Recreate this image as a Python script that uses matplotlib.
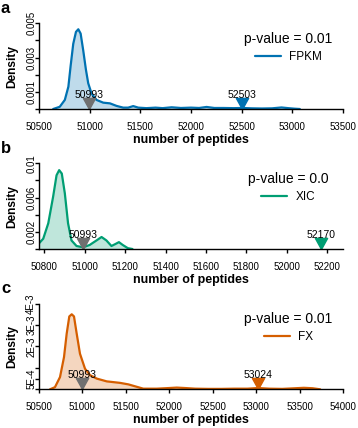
import matplotlib
matplotlib.use("Agg")
import matplotlib.pyplot as plt
from matplotlib.markers import MarkerStyle
from matplotlib.path import Path

plt.rcParams["font.family"] = ["Liberation Sans", "DejaVu Sans"]

# density curves
FPKM_X = [50640, 50705, 50755, 50790, 50812, 50838, 50865, 50888, 50911, 50937,
          50963, 50986, 51019, 51068, 51134, 51200, 51266, 51331, 51380, 51430,
          51480, 51560, 51650, 51720, 51809, 51900, 52000, 52080, 52154, 52230,
          52320, 52420, 52510, 52600, 52700, 52800, 52893, 52960, 53020, 53074]
FPKM_Y = [0, 0.00013, 0.00053, 0.0013, 0.0025, 0.0038, 0.0045, 0.00465, 0.0044, 0.0034,
          0.0023, 0.0015, 0.0009, 0.00053, 0.00037, 0.00033, 0.00018, 0.00008, 0.00008, 0.00017,
          0.00008, 0.00005, 0.00008, 0.00005, 0.0001, 0.00006, 0.00008, 0.00006, 0.00012, 0.00006,
          0.00006, 0.00005, 0.00006, 0.00004, 0.00003, 0.00004, 0.00009, 0.00005, 0.00002, 0]

XIC_X = [50773, 50794, 50819, 50843, 50860, 50873, 50886, 50901, 50917, 50934,
         50959, 50992, 51024, 51058, 51083, 51107, 51132, 51153, 51169, 51188,
         51213, 51236]
XIC_Y = [0.00066, 0.0012, 0.003, 0.0061, 0.0086, 0.0092, 0.0088, 0.0065, 0.003, 0.001,
         0.00035, 0.0002, 0.00047, 0.001, 0.0014, 0.001, 0.00035, 0.0006, 0.0008, 0.00047,
         0.0001, 0]

FX_X = [50627, 50684, 50742, 50788, 50819, 50849, 50877, 50903, 50934, 50972,
        51030, 51088, 51165, 51280, 51433, 51529, 51606, 51701, 51856, 52000,
        52086, 52180, 52300, 52450, 52600, 52750, 52900, 53024, 53150, 53300,
        53450, 53550, 53650, 53737]
FX_Y = [0, 0.0001, 0.00057, 0.0015, 0.0026, 0.0034, 0.0035, 0.0034, 0.0026, 0.00166,
        0.00096, 0.00066, 0.0005, 0.00037, 0.0003, 0.00023, 0.00014, 0.00003, 0.00003, 0.00006,
        0.00008, 0.00006, 0.00003, 0.00002, 0.00002, 0.00003, 0.00003, 0.00006, 0.00003, 0.00002,
        0.00005, 0.00007, 0.00005, 0]

OBSERVED = 50993
NAMES = ["FPKM", "XIC", "FX"]
PVALUES = ["0.01", "0.0", "0.01"]
TARGETS = [52503, 52170, 53024]
COLORS = ["#0072B2", "#009E73", "#D55E00"]
LETTERS = ["a", "b", "c"]

XLIMS = [(50500, 53500), (50773, 52279), (50500, 54000)]
XTICKS = [list(range(50500, 53501, 500)), list(range(50800, 52201, 200)),
          list(range(50500, 54001, 500))]
YLIMS = [(0, 0.005), (0, 0.01), (0, 0.004)]
YTICKS = [[0, 0.001, 0.002, 0.003, 0.004, 0.005],
          [0, 0.002, 0.004, 0.006, 0.008, 0.01],
          [0, 0.0005, 0.001, 0.002, 0.003, 0.004]]
YLABELS = [["", "0.001", "", "0.003", "", "0.005"],
           ["", "0.002", "", "0.006", "", "0.01"],
           ["", "5E-4", "", "2E-3", "3E-3", "4E-3"]]

CURVES = [(FPKM_X, FPKM_Y), (XIC_X, XIC_Y), (FX_X, FX_Y)]

# downward triangle with its tip on the data point
tri = MarkerStyle(Path([(0, 0), (-0.55, 1), (0.55, 1), (0, 0)]))

fig = plt.figure(figsize=(3.58, 4.28), dpi=100)
bottoms = [0.7453, 0.4182, 0.0904]

for i in range(3):
    ax = fig.add_axes([0.1089, bottoms[i], 0.8492, 0.2003])
    xs, ys = CURVES[i]
    c = COLORS[i]
    ax.fill_between(xs, ys, 0, color=c, alpha=0.25, linewidth=0)
    ax.plot(xs, ys, color=c, linewidth=1.6, label=NAMES[i], solid_capstyle="round")

    ax.plot([OBSERVED], [0], marker=tri, markersize=16, color="#707070",
            linestyle="none", clip_on=False)
    ax.plot([TARGETS[i]], [0], marker=tri, markersize=16, color=c,
            linestyle="none", clip_on=False)
    for v in (OBSERVED, TARGETS[i]):
        ax.annotate(str(v), (v, 0), xytext=(0, 10), textcoords="offset points",
                    ha="center", va="center", fontsize=7.5)

    ax.set_xlim(*XLIMS[i])
    ax.set_ylim(*YLIMS[i])
    ax.set_xticks(XTICKS[i])
    ax.set_yticks(YTICKS[i])
    ax.set_yticklabels(YLABELS[i])
    ax.tick_params(axis="both", direction="out", length=3, width=1,
                   labelsize=7)
    ax.tick_params(axis="x", pad=6)
    ax.tick_params(axis="y", pad=-1, labelrotation=90)
    for lab in ax.get_yticklabels():
        lab.set_va("center")
    for s in ("top", "right"):
        ax.spines[s].set_visible(False)
    for s in ("left", "bottom"):
        ax.spines[s].set_linewidth(1)

    ax.text(-0.089, 0.5, "Density", rotation=90, ha="center", va="center",
            fontsize=8.6, fontweight="bold", transform=ax.transAxes)
    ax.text(0.5, -0.36, "number of peptides", ha="center", va="center",
            fontsize=9, fontweight="bold", transform=ax.transAxes)
    ax.text(-0.125, 1.125, LETTERS[i], ha="left", va="baseline",
            fontsize=12, fontweight="bold", transform=ax.transAxes)

    ax.text(0.82, 0.817, "p-value = " + PVALUES[i], ha="center", va="center",
            fontsize=10, transform=ax.transAxes)
    ax.legend(loc="center", bbox_to_anchor=(0.82, 0.607), frameon=False,
              fontsize=8.5, handlelength=2.2, handletextpad=0.7,
              borderpad=0, borderaxespad=0)

fig.savefig("out.png", dpi=100)
